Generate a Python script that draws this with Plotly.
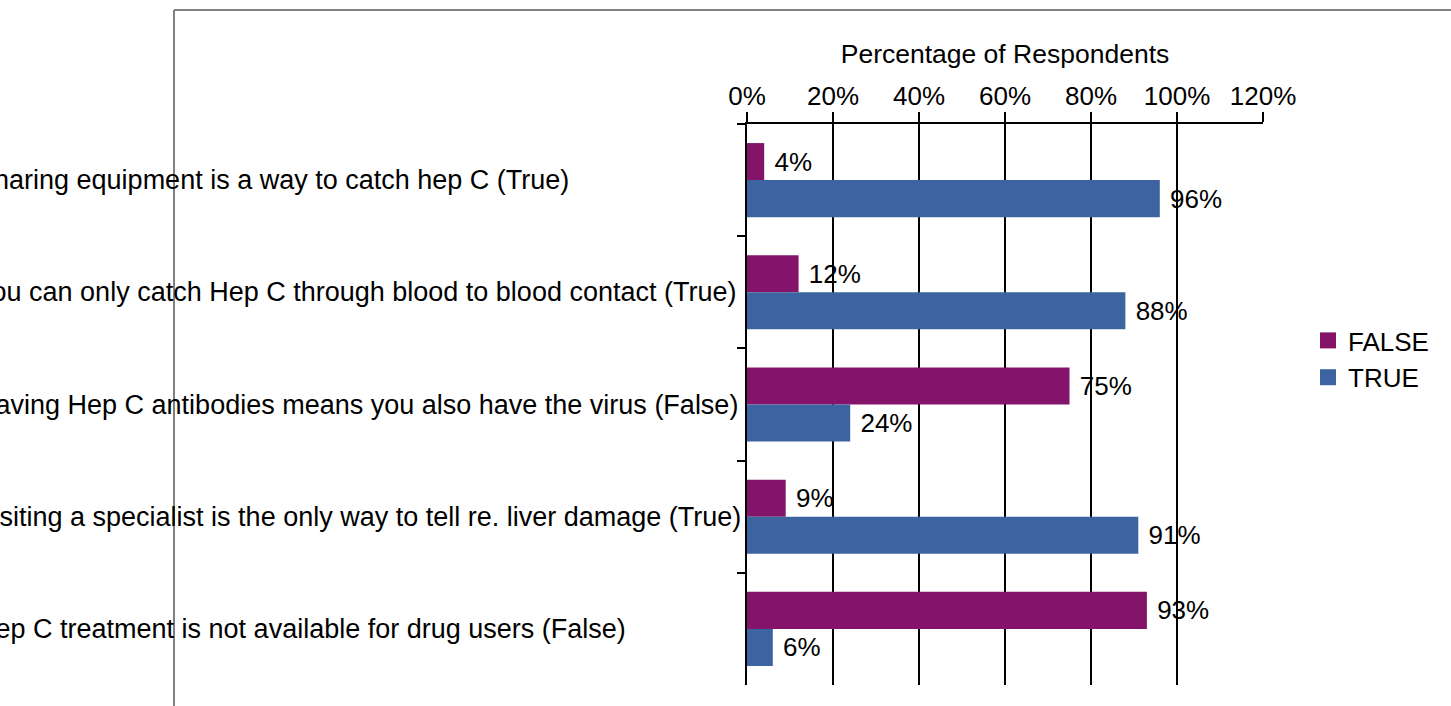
import plotly.graph_objects as go

questions = [
    "Sharing equipment is a way to catch hep C (True)",
    "You can only catch Hep C through blood to blood contact (True)",
    "Having Hep C antibodies means you also have the virus (False)",
    "Visiting a specialist is the only way to tell re. liver damage (True)",
    "Hep C treatment is not available for drug users (False)",
]
answered_false = [0.04, 0.12, 0.75, 0.09, 0.93]
answered_true = [0.96, 0.88, 0.24, 0.91, 0.06]
series_names = ["FALSE", "TRUE"]
series_colors = ["#84146A", "#3C64A0"]

W, H = 1451, 706
L, R, T, B = 747, 1263, 124, 685
FONT = "Liberation Sans, Arial, sans-serif"
FS = 26


def px_x(p):
    return (p - L) / (R - L)


def px_y(p):
    return (B - p) / (B - T)


fig = go.Figure()
for name, vals, col in zip(series_names, [answered_false, answered_true], series_colors):
    fig.add_trace(go.Bar(
        y=questions, x=vals, name=name, orientation="h", showlegend=False,
        marker=dict(color=col, line_width=0),
        texttemplate="&nbsp;%{x:.0%}", textposition="outside", cliponaxis=False,
        textfont=dict(size=FS, color="black", family=FONT),
    ))
    # legend-only square swatch, a bit larger than the default bar swatch
    fig.add_trace(go.Scatter(
        x=[None], y=[None], name=name, mode="markers",
        marker=dict(symbol="square", size=16, color=col),
    ))

# category labels, left aligned and running off the page like the original
for q in questions:
    fig.add_annotation(
        x=px_x(-26), xref="paper", y=q, yref="y", text=q, showarrow=False,
        xanchor="left", yanchor="middle", font=dict(size=27, color="black", family=FONT),
    )

# grey frame of the outer chart area
fig.add_shape(type="line", xref="paper", yref="paper", x0=px_x(174), x1=px_x(1460),
              y0=px_y(10), y1=px_y(10), line=dict(color="#808080", width=2))
fig.add_shape(type="line", xref="paper", yref="paper", x0=px_x(174), x1=px_x(174),
              y0=px_y(10), y1=px_y(720), line=dict(color="#808080", width=2))

fig.update_layout(
    width=W, height=H,
    margin=dict(l=L, r=W - R, t=T, b=H - B),
    paper_bgcolor="white", plot_bgcolor="white",
    barmode="group", bargap=0.34, bargroupgap=0,
    font=dict(family=FONT, size=FS, color="black"),
    legend=dict(x=px_x(1308), y=px_y(317), xanchor="left", yanchor="top",
                font=dict(size=FS), itemwidth=30, tracegroupgap=0),
    xaxis=dict(
        side="top", range=[0, 1.2], dtick=0.2, tickformat=".0%",
        showgrid=True, gridcolor="black", gridwidth=1.5,
        showline=True, linecolor="black", linewidth=1.5,
        ticks="outside", ticklen=10, tickcolor="black", tickwidth=1.5,
        ticklabelstandoff=-3,
        zeroline=False,
        title=dict(text="Percentage of Respondents", standoff=10, font=dict(size=26.5)),
    ),
    yaxis=dict(
        autorange="reversed", showticklabels=False,
        showline=True, linecolor="black", linewidth=1.5,
        ticks="outside", tickson="boundaries", ticklen=8, tickcolor="black", tickwidth=1.5,
        showgrid=False,
    ),
)

fig.write_html("out.html", config={"displayModeBar": False},
               post_script="document.body.style.margin = '0';")
